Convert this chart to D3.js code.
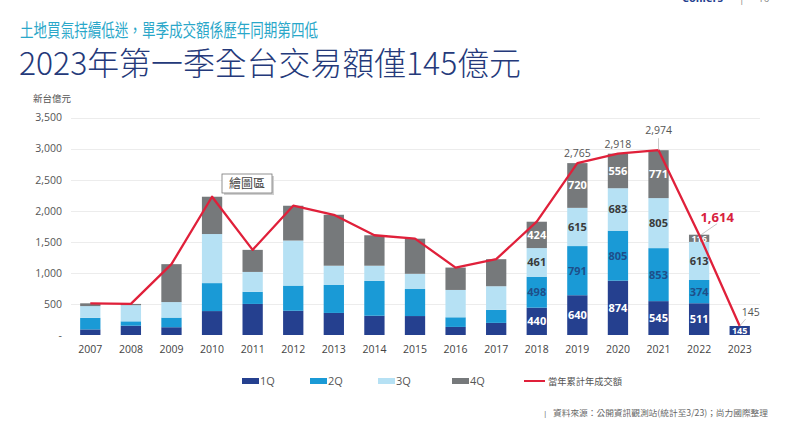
<!DOCTYPE html>
<html><head><meta charset="utf-8">
<script src="https://cdn.jsdelivr.net/npm/d3@7"></script>
<style>
html,body{margin:0;padding:0;background:#fff;}
svg{display:block;}
text{font-family:"Open Sans","Noto Sans CJK TC",sans-serif;}
.cjk{font-family:"Noto Sans CJK TC","Noto Sans",sans-serif;}
</style></head>
<body>
<svg id="c" width="792" height="431"></svg>
<script>
const years = ["2007","2008","2009","2010","2011","2012","2013","2014","2015","2016","2017","2018","2019","2020","2021","2022","2023"];
const q1 = [90,150,125,385,500,390,355,310,305,130,195,440,640,874,545,511,145];
const q2 = [185,70,155,450,195,405,450,560,435,155,210,498,791,805,853,374,0];
const q3 = [190,260,250,790,320,725,310,245,245,440,380,461,615,683,805,613,0];
const q4 = [45,20,610,600,355,560,820,490,565,360,435,424,720,556,771,116,0];
const annualTotal = [510,500,1140,2225,1370,2080,1935,1605,1550,1085,1220,1823,2765,2918,2974,1614,145];
const seriesNames = ["1Q","2Q","3Q","4Q"];
const lineName = "當年累計年成交額";
const yTicks = [0,500,1000,1500,2000,2500,3000,3500];
const labeledYears = ["2018","2019","2020","2021","2022","2023"];
const totalLabelYears = ["2019","2020","2021"];

const colors = ["#25408f","#1a9ad6","#b6e1f4","#76797b"];
const labelColors = ["#ffffff","#1e4f8a","#3a3a3a","#ffffff"];
const lineColor = "#e0203a";

const svg = d3.select("#c");

// titles
svg.append("text").attr("class","cjk").attr("x",20).attr("y",37)
  .attr("font-size",18).attr("fill","#2aa7c9")
  .attr("textLength",298).attr("lengthAdjust","spacingAndGlyphs")
  .text("土地買氣持續低迷，單季成交額係歷年同期第四低");
svg.append("text").attr("class","cjk").attr("x",19).attr("y",75)
  .attr("font-size",32).attr("font-weight",300).attr("fill","#24397a")
  .attr("textLength",502).attr("lengthAdjust","spacingAndGlyphs")
  .text("2023年第一季全台交易額僅145億元");

// top-right header remnant
svg.append("text").attr("x",682).attr("y",2).attr("font-size",11).attr("font-weight",700).attr("fill","#25408f").text("Colliers");
svg.append("text").attr("x",739).attr("y",2).attr("font-size",10).attr("fill","#888").text("|");
svg.append("text").attr("x",758).attr("y",2).attr("font-size",10).attr("fill","#888").text("10");

const x = d3.scaleBand().domain(years).range([70,760]).paddingInner(0.5).paddingOuter(0.25);
const y = d3.scaleLinear().domain([0,3500]).range([335,117.5]);

// unit
svg.append("text").attr("class","cjk").attr("x",33).attr("y",102).attr("font-size",9.5).attr("fill","#555").text("新台億元");

// gridlines
svg.append("g").selectAll("line").data(yTicks.slice(1)).join("line")
  .attr("x1",71).attr("x2",760).attr("y1",d=>Math.round(y(d))+0.5).attr("y2",d=>Math.round(y(d))+0.5)
  .attr("stroke","#ececec").attr("stroke-width",1);

// y axis
const yAxis = d3.axisLeft(y).tickValues(yTicks).tickSize(0).tickPadding(8)
  .tickFormat(d=> d===0 ? "-" : d3.format(",")(d));
const gy = svg.append("g").attr("transform","translate(70,0)").call(yAxis);
gy.select(".domain").remove();
gy.selectAll("text").attr("font-size",10.5).attr("fill","#555").attr("font-family","Open Sans, sans-serif");

// x axis
const xAxis = d3.axisBottom(x).tickSize(0).tickPadding(10);
const gx = svg.append("g").attr("transform","translate(0,336)").call(xAxis);
gx.select(".domain").remove();
gx.selectAll("text").attr("font-size",10.5).attr("fill","#444");

// stacked data
const table = years.map((yr,i)=>({year:yr,"1Q":q1[i],"2Q":q2[i],"3Q":q3[i],"4Q":q4[i]}));
const stack = d3.stack().keys(seriesNames)(table);

const gb = svg.append("g");
stack.forEach((s,si)=>{
  gb.append("g").selectAll("rect").data(s).join("rect")
    .attr("x",d=>x(d.data.year)).attr("width",x.bandwidth())
    .attr("y",d=>y(d[1])).attr("height",d=>Math.max(0,y(d[0])-y(d[1])))
    .attr("fill",colors[si]);
});

// segment labels
stack.forEach((s,si)=>{
  gb.append("g").selectAll("text").data(s.filter(d=>labeledYears.includes(d.data.year) && d[1]-d[0]>0)).join("text")
    .attr("x",d=>x(d.data.year)+x.bandwidth()/2)
    .attr("y",d=>(y(d[0])+y(d[1]))/2+4)
    .attr("text-anchor","middle")
    .attr("font-size",d=>(d[1]-d[0])<150?9:11).attr("font-weight",700)
    .attr("fill",labelColors[si])
    .text(d=>d[1]-d[0]);
});

// totals line
const line = d3.line().x((d,i)=>x(years[i])+x.bandwidth()/2).y(d=>y(d));
svg.append("path").datum(annualTotal).attr("d",line).attr("fill","none")
  .attr("stroke",lineColor).attr("stroke-width",2.3).attr("stroke-linejoin","round");

// total labels
const tl = svg.append("g");
totalLabelYears.forEach(yr=>{
  const i = years.indexOf(yr);
  const cx = x(yr)+x.bandwidth()/2;
  const ty = yr==="2021" ? y(annualTotal[i])-16 : y(annualTotal[i])-6;
  if (yr==="2021") {
    tl.append("line").attr("x1",cx).attr("x2",cx).attr("y1",ty+4).attr("y2",y(annualTotal[i])).attr("stroke","#bbb").attr("stroke-width",0.8);
  }
  tl.append("text").attr("x",cx).attr("y",ty).attr("text-anchor","middle").attr("font-size",10.5).attr("fill","#555")
    .text(d3.format(",")(annualTotal[i]));
});
// 2022 highlighted label
{
  const i = years.indexOf("2022");
  const cx = x("2022")+x.bandwidth()/2;
  tl.append("line").attr("x1",cx+2).attr("y1",y(annualTotal[i])).attr("x2",cx+18).attr("y2",y(annualTotal[i])-11).attr("stroke","#bbb").attr("stroke-width",0.8);
  tl.append("text").attr("x",cx+18).attr("y",y(annualTotal[i])-13).attr("text-anchor","middle")
    .attr("font-family","DejaVu Serif, Liberation Serif, serif").attr("font-weight",700)
    .attr("font-size",13).attr("fill","#d8213d").text(d3.format(",")(annualTotal[i]));
}
// 2023 label
{
  const i = years.indexOf("2023");
  const cx = x("2023")+x.bandwidth()/2;
  tl.append("line").attr("x1",cx).attr("y1",y(annualTotal[i])).attr("x2",cx+6).attr("y2",y(annualTotal[i])-7).attr("stroke","#bbb").attr("stroke-width",0.8);
  tl.append("text").attr("x",cx+11).attr("y",y(annualTotal[i])-10).attr("text-anchor","middle").attr("font-size",10.5).attr("fill","#555")
    .text(d3.format(",")(annualTotal[i]));
}

// "繪圖區" tooltip
{
  const tg = svg.append("g").attr("transform","translate(222,174)");
  tg.append("rect").attr("x",2).attr("y",2).attr("width",50).attr("height",19).attr("fill","#d0d0d0");
  tg.append("rect").attr("x",0).attr("y",0).attr("width",50).attr("height",19).attr("fill","#fff").attr("stroke","#777").attr("stroke-width",0.8);
  tg.append("text").attr("class","cjk").attr("x",25).attr("y",14).attr("text-anchor","middle").attr("font-size",12).attr("fill","#444").text("繪圖區");
}

// legend
const lg = svg.append("g");
const legX = [242,310,378,452];
seriesNames.forEach((n,i)=>{
  lg.append("rect").attr("x",legX[i]).attr("y",378).attr("width",17).attr("height",6).attr("fill",colors[i]);
  lg.append("text").attr("x",legX[i]+18).attr("y",385).attr("font-size",11).attr("fill","#555").text(n);
});
lg.append("line").attr("x1",524).attr("x2",545).attr("y1",381).attr("y2",381).attr("stroke",lineColor).attr("stroke-width",2);
lg.append("text").attr("class","cjk").attr("x",548).attr("y",385).attr("font-size",9.5).attr("fill","#555")
  .attr("textLength",74).attr("lengthAdjust","spacingAndGlyphs").text(lineName);

// footer
svg.append("text").attr("x",543).attr("y",416).attr("font-size",8).attr("fill","#666").text("|");
svg.append("text").attr("class","cjk").attr("x",553).attr("y",416).attr("font-size",8.5).attr("fill","#666")
  .attr("textLength",215).attr("lengthAdjust","spacingAndGlyphs")
  .text("資料來源：公開資訊觀測站(統計至3/23)；尚力國際整理");
</script>
</body></html>
